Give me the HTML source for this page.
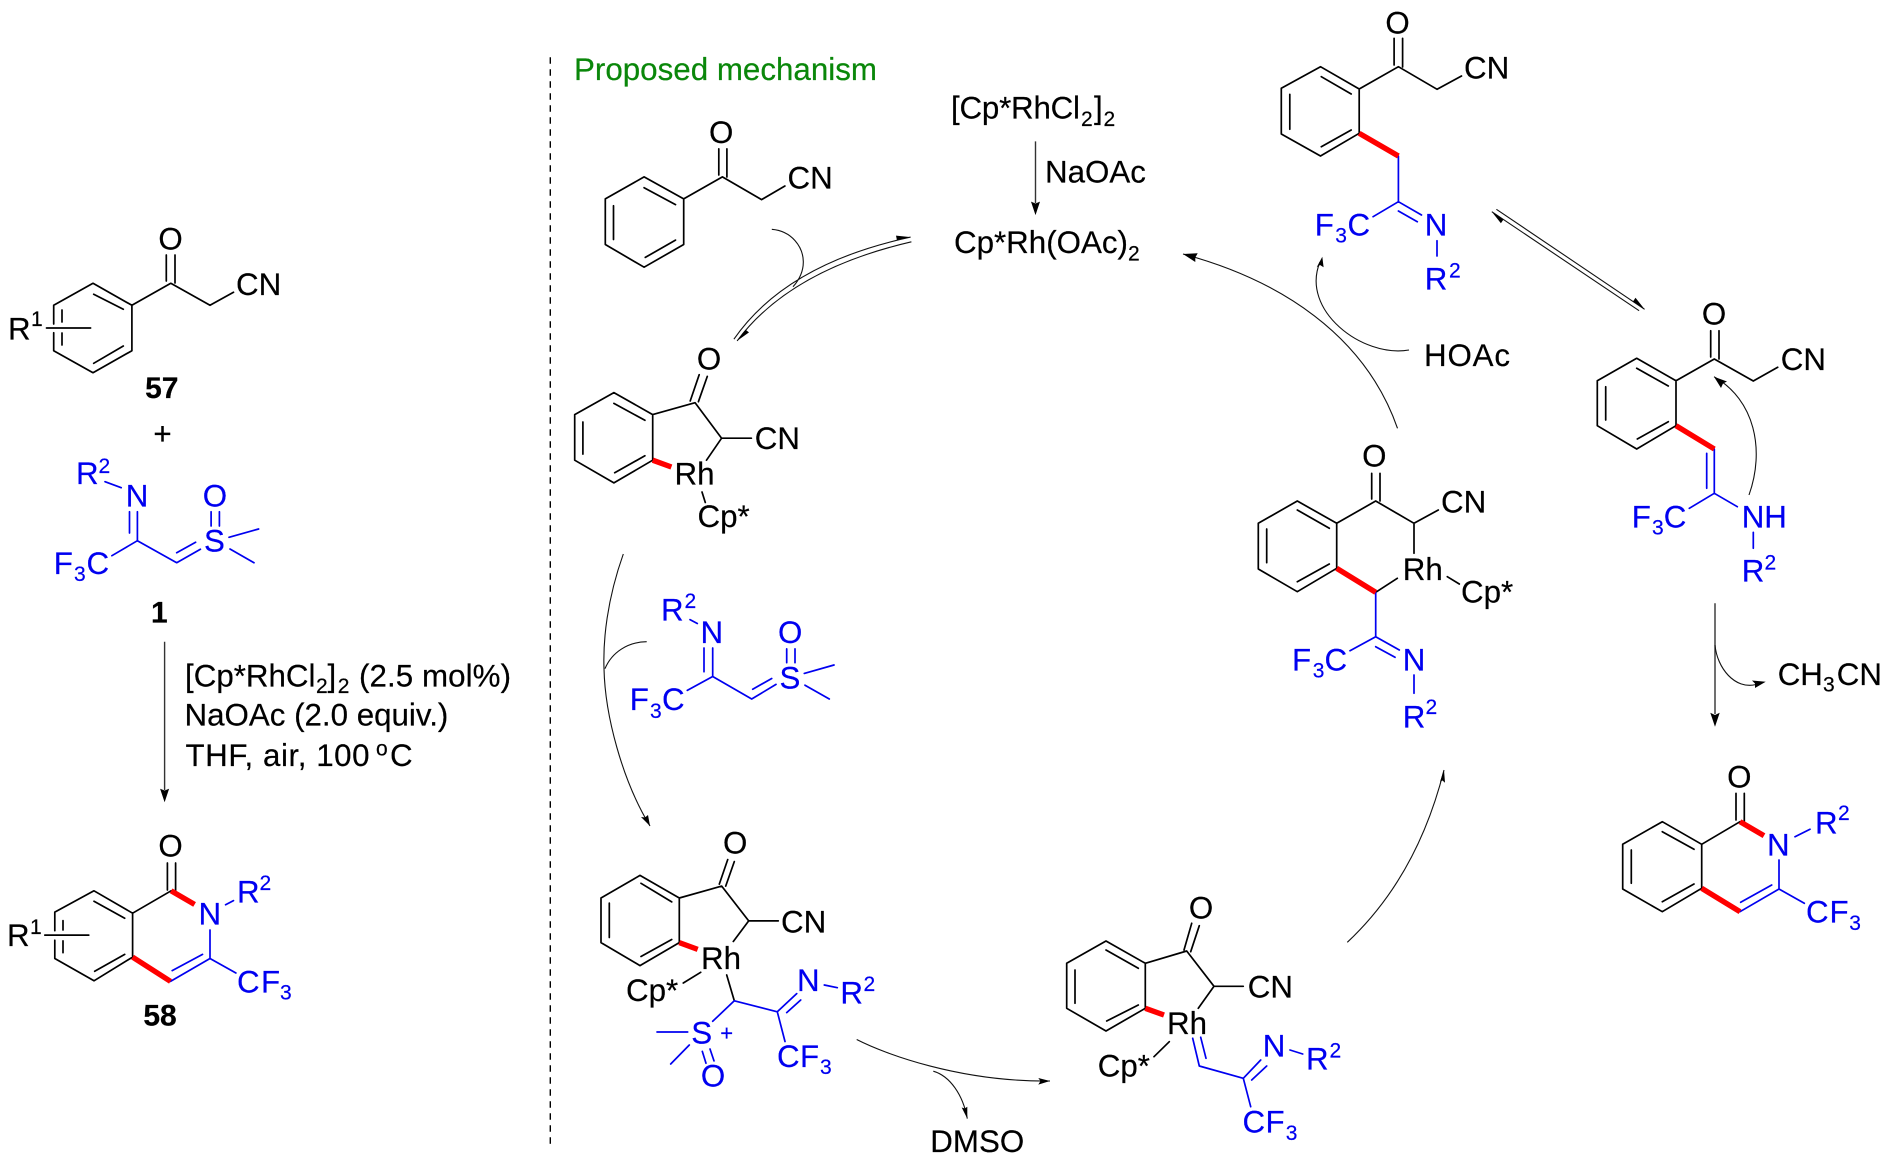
<!DOCTYPE html>
<html><head><meta charset="utf-8"><title>Proposed mechanism</title>
<style>
html,body{margin:0;padding:0;background:#fff}
svg{display:block}
text{font-family:"Liberation Sans",Arial,sans-serif;font-size:31.3px;fill:#000;stroke:#000;stroke-width:.2}
.b text{fill:#0000f0;stroke:#0000f0}
text.s{font-size:21px}
.m{text-anchor:middle}
text.bd{font-weight:bold;font-size:30px}
.k{fill:none;stroke:#000;stroke-width:1.7;stroke-linecap:round;stroke-linejoin:round}
.u{fill:none;stroke:#0000f0;stroke-width:1.7;stroke-linecap:round;stroke-linejoin:round}
.r{fill:none;stroke:#f00;stroke-width:5.4;stroke-linecap:butt}
.t{fill:none;stroke:#111;stroke-width:1.1}
.a{fill:none;stroke:#333;stroke-width:1.4}
</style></head><body>
<svg width="1890" height="1170" viewBox="0 0 1890 1170" xmlns="http://www.w3.org/2000/svg">
<rect width="1890" height="1170" fill="#fff"/>

<!-- dashed separator -->
<path d="M550.3,57.3V1146" fill="none" stroke="#000" stroke-width="1.4" stroke-dasharray="6.5 5.5"/>
<text x="574" y="80" textLength="303" lengthAdjust="spacingAndGlyphs" style="fill:#0a870a;stroke:#0a870a">Proposed mechanism</text>

<!-- black bonds -->
<path class="k" d="
M53.7,324V305.3L93,283.3L131.9,305.3V350.7L93,372.7L53.7,350.7V332.7
M93.7,294.3L123.3,309.3M93.7,363.3L123.3,346M62,310V322M62,333V345M46.5,328H90.6
M131.9,305.3L170.8,283.3L210,305.3L233.5,292.3M166.3,255V281M175,255V283

M54.8,930.7V912.1L94,890.8L132.6,913.2V957.1L94,980.8L54.8,958.5V940.2
M94,901.3L124.7,918.2M94.7,971.3L124.7,954.4M63,920.6V930M63,940.9V952.7M44.8,935.1H88.8
M132.6,913.2L171.1,890.8M167.4,863V890M175.6,863V892

M644.1,176.9L683.7,198.9V244.5L644.1,267.2L605.3,244.5V198.9Z
M644.1,187.7L675.5,204.6M645.3,257.4L675.5,240.1M613.5,205.7V239.5
M683.7,198.9L722.4,176.9L761.6,199.6L784.9,186M718.8,148.9V175M726.9,148.9V177

M613.9,392.6L652.7,414.6V460.2L613.9,482.9L574.7,460.2V414.6Z
M613.9,403.4L644.9,420.3M614.7,472.7L644.9,455.8M582.9,422V454.1
M652.7,414.6L695.1,402.7L721.6,438.2H751.4M721.6,438.2L706.5,460.2
M690.2,401L699.2,374.7M698.4,401.7L707.3,376.4M702,492L705.3,502.5

M640,875.4L679.3,898V942.6L640,965.6L601,942.6V898Z
M641,883.3L671.7,901.9M641,956.5L671.7,939.5M609.3,903.1V937.5
M679.3,898L721.7,886.1L748.7,920.9H778.3M748.7,920.9L733.3,941.5
M719.3,884.1L727.7,859.6M725.7,886.1L734.3,861.6M683.3,983L700.7,972.3M726.7,975L734.3,1000.8

M1106,941L1145.3,963.3V1008.3L1106,1031L1066.7,1008.3V963.3Z
M1106,950L1138.3,968.3M1106.7,1021L1138.3,1005M1075,970V1003.3
M1145.3,963.3L1186.7,951L1214,986.3H1243.3M1214,986.3L1198.3,1008.3
M1184,950L1191.7,923.3M1190.7,951.7L1199.3,925.7M1154,1056.7L1169.3,1041.7

M1320.5,66.7L1359.2,89V133.3L1320.5,156L1281.3,134V88.3Z
M1321.3,76.7L1351.2,94M1321.3,146.7L1351.2,130M1289.8,94.3V129.3
M1359.2,89L1398.4,66.7L1437.1,89.3L1461.5,76M1394.1,38.3V65M1402.6,38.3V67

M1297.3,501L1336.7,523.3V568.3L1297.3,591.7L1258.3,569V523.3Z
M1297.3,510L1329.3,528.3M1297.3,581.7L1329.3,564M1266.7,529V562.7
M1336.7,523.3L1375.7,501L1414,523.3L1438.3,510M1414,523.3V553.3M1371.7,473.3V499M1380,473.3V501
M1397.3,578.3L1375.7,592.3M1447.3,576.7L1459.3,584

M1636.7,358.3L1676,380.7V425.7L1636.7,449L1597.3,425.7V380.7Z
M1636.7,368.3L1668.3,386M1637.3,439L1668.3,421.7M1605.7,386.7V420
M1676,380.7L1714.3,359L1753.3,381L1777.7,367.3M1710.7,330.7V357M1719,330.7V359

M1662.3,821.7L1701.7,844.3V888.3L1662.3,911.7L1622.7,889V844.3Z
M1662.3,831.7L1694,849.3M1662.3,901.7L1694,884M1631.3,850V883.3
M1701.7,844.3L1740,821.7M1736,793.3V820M1744.3,793.3V822
"/>

<!-- blue bonds -->
<path class="u" d="
M105,481.7L121.2,487.7M129.5,511.7V533M137.4,511.7V540.7M111.9,555.7L137.4,540.7L176.7,562.7L200.4,549.3M176.7,552.7L195.6,542.3
M211.1,511.7V526M219.4,511.7V526M229,537.3L258.6,529M230,549L254,562.7

M225.6,904.7L233.5,900.6M210,930V958.5L170.5,981.4M172.2,970.6L202.5,954.4M210,958.5L235.9,973

M690,619.6L697.3,623.5M704,648V671.8M712.7,648V676.5M687.3,690.4L712.7,676.5L751.7,699L776,684.4M752.7,689.2L771.7,678.5
M786.7,648.9V662.7M795,648.9V662.7M804.3,673.4L834,665M805,685.2L829.3,699

M712.7,1021.3L734.3,1000.8L777.3,1011.8L796.7,993.6M786.7,1012.6L800.7,1000M824.3,985L837.3,987.7M777.3,1011.8L785,1041.5
M657,1032H687.7M670.7,1064L689.3,1045M702.3,1051.4L706,1063.2M710,1049L714,1060.9

M1192.7,1038.3L1199.3,1066L1243.3,1078.3L1260.7,1060M1200.7,1037.3L1206,1058.3M1251.7,1080L1266.7,1066M1290,1050L1302.7,1054M1243.3,1078.3L1250.7,1106.7

M1398.4,156V201.7L1421.5,215M1398.4,211L1417.3,221.7M1373.1,216.7L1398.4,201.7M1437,240.7V256

M1375.7,592.3V636.7L1399.3,650M1375.7,646.7L1395,657.3M1350,650.7L1375.7,636.7M1414,675V693.3

M1714.3,449V493.3L1737.3,506.7M1706.7,453.3V488.3M1689.3,508.3L1714.3,493.3M1753.3,532.3V548.3

M1795,836.7L1810,829.3M1779,860V889L1740,911.7M1740.7,902.3L1771.7,885M1779,889L1804.3,903.3
"/>

<!-- red bonds -->
<path class="r" d="M171.1,890.8L194.6,904.4M132.6,957.1L170.5,981.4M652.7,460.2L671.4,467M679.3,942.6L697.7,949.4M1145.3,1008.3L1164,1015M1359.2,133.3L1398.4,156M1336.7,568.3L1375.7,592.3M1676,425.7L1714.3,449M1740,821.7L1764,835.7M1701.7,888.3L1740,911.7"/>

<!-- straight arrows -->
<path class="a" d="M164.6,641.7V790M1035.5,141.4V203M1715,603.3V714"/>
<path class="t" d="M1496.4,209.3L1644.6,309.3M1491.8,211.7L1639.1,310.7"/>

<!-- curved arrows -->
<path class="t" d="M733.9,339.2Q786,264 910.6,237.1M911.4,241.8Q790,270 737.1,340.9
M771.8,229.3C792,231 803,247 803.3,261.4C803.5,271 799,280 793,286.8
M623.3,554C607,600 603,640 604,668.6C605,715 622,780 650,826
M646.7,641.7C628,642 612,652 605,668.6
M856.7,1039.5C885,1054 960,1082 1050,1081
M933.3,1071.2C950,1076 963,1095 967.3,1118.6
M1347.3,942.3Q1417,877 1444,770
M1397.5,428.3C1365,335 1280,280 1183,254
M1409,350C1362,358 1300,310 1320,262
M1749,495C1765,450 1755,400 1714,376.7
M1715,645C1717,668 1735,690 1756,684.5"/>

<!-- arrowheads -->
<g fill="#000">
<polygon points="164.6,802.3 160.1,788.7 164.6,790.5 169.1,788.7"/>
<polygon points="1035.5,215.1 1031,201.6 1035.5,203.5 1040,201.6"/>
<polygon points="1715,726.7 1710.3,712.7 1715,715 1719.7,712.7"/>
<polygon points="910.6,237.1 896.9,240 896,235.6"/>
<polygon points="737.1,340.9 745.5,329.7 749,332.4"/>
<polygon points="650,826 641,817 645,817.5 648,815"/>
<polygon points="1050,1081 1038.3,1078 1040.5,1081 1038.3,1084.6"/>
<polygon points="967.3,1118.6 961.7,1107.5 964.7,1108.5 967.3,1106.7"/>
<polygon points="1444,770 1440,781.7 1442.5,780.5 1445,782.7"/>
<polygon points="1183,254 1197.7,253.3 1195.3,257.5 1195.3,262"/>
<polygon points="1322.3,256.7 1316.7,267.3 1320,265 1323.6,267.3"/>
<polygon points="1714,376.7 1727,381.5 1723,383.5 1721,388"/>
<polygon points="1765.7,681.7 1752,680.5 1755,683.5 1755,688"/>
<polygon points="1644.6,309.3 1633,301.5 1635.5,297.8"/>
<polygon points="1491.8,211.7 1503.4,219.6 1500.9,223.3"/>
</g>

<!-- black text -->
<text class="m" x="170.5" y="249.5">O</text>
<text x="236" y="295">CN</text>
<text x="8" y="339.3">R</text><text class="s" x="31" y="326">1</text>
<text class="bd m" x="161.8" y="398">57</text>
<text class="m" x="162.5" y="444.5">+</text>
<text class="bd m" x="159.4" y="622.7">1</text>

<text x="185" y="686.3" textLength="130.5">[Cp*RhCl</text><text class="s" x="316" y="693">2</text><text x="327.5" y="686.3">]</text><text class="s" x="337.7" y="693">2</text><text x="359" y="686.3" textLength="152">(2.5 mol%)</text>
<text x="184.5" y="725.5">NaOAc (2.0 equiv.)</text>
<text x="185.5" y="765.8" textLength="184">THF, air, 100</text><text class="s" x="376" y="755.5">o</text><text x="390" y="765.8">C</text>

<text class="m" x="170.5" y="856.4">O</text>
<text x="7" y="946">R</text><text class="s" x="30" y="934">1</text>
<text class="bd m" x="160" y="1025.4">58</text>

<text class="m" x="721.2" y="143.1">O</text>
<text x="787.5" y="188.7">CN</text>
<text x="951" y="118.4" textLength="129">[Cp*RhCl</text><text class="s" x="1081" y="126">2</text><text x="1094" y="118.4">]</text><text class="s" x="1103.5" y="126">2</text>
<text x="1045" y="182.7">NaOAc</text>
<text x="954" y="253">Cp*Rh(OAc)</text><text class="s" x="1128" y="260.5">2</text>

<text class="m" x="709" y="369.6">O</text>
<text x="754.8" y="449">CN</text>
<text x="674.5" y="484.6">Rh</text>
<text x="697.5" y="526.8">Cp*</text>

<text class="m" x="735.2" y="853.7">O</text>
<text x="781" y="932.4">CN</text>
<text x="701" y="969">Rh</text>
<text x="626" y="1000.8">Cp*</text>
<text x="930.3" y="1151.8">DMSO</text>

<text class="m" x="1201" y="918.3">O</text>
<text x="1247.8" y="997.3">CN</text>
<text x="1167" y="1034">Rh</text>
<text x="1097.8" y="1076.7">Cp*</text>

<text class="m" x="1397.5" y="33.3">O</text>
<text x="1464" y="78.3">CN</text>
<text x="1424" y="366" textLength="86">HOAc</text>

<text class="m" x="1374.3" y="466.7">O</text>
<text x="1441" y="512.3">CN</text>
<text x="1402.8" y="580">Rh</text>
<text x="1461" y="602.3">Cp*</text>

<text class="m" x="1714" y="324.3">O</text>
<text x="1780.8" y="370">CN</text>

<text x="1777.7" y="685">CH</text><text class="s" x="1823" y="691.7">3</text><text x="1836.8" y="685">CN</text>

<text class="m" x="1739.3" y="787.7">O</text>

<!-- blue text -->
<g class="b">
<text x="76" y="484">R</text><text class="s" x="98.5" y="473">2</text>
<text x="125.7" y="506.7">N</text>
<text x="53.8" y="574">F</text><text class="s" x="74" y="581">3</text><text x="86.5" y="574">C</text>
<text x="204" y="551.7">S</text>
<text x="202.8" y="506.7">O</text>

<text x="198.5" y="924.7">N</text>
<text x="237" y="902.7">R</text><text class="s" x="259.5" y="890.2">2</text>
<text x="237" y="992.6">C</text><text x="261" y="992.6">F</text><text class="s" x="280" y="999.4">3</text>

<text x="661" y="620.4">R</text><text class="s" x="684.5" y="608">2</text>
<text x="700.5" y="642.9">N</text>
<text x="629.7" y="710">F</text><text class="s" x="650" y="718">3</text><text x="662" y="710">C</text>
<text x="779.5" y="688.4">S</text>
<text x="778" y="642.9">O</text>

<text x="797" y="990.9">N</text>
<text x="840.4" y="1003.5">R</text><text class="s" x="863.5" y="990.9">2</text>
<text x="777" y="1066.8">C</text><text x="800" y="1066.8">F</text><text class="s" x="820" y="1074">3</text>
<text x="691.3" y="1043.5">S</text>
<text class="m" x="726.7" y="1040.7" style="font-size:22px">+</text>
<text class="m" x="713" y="1086.6">O</text>

<text x="1262.7" y="1056.7">N</text>
<text x="1306" y="1069.3">R</text><text class="s" x="1329.5" y="1057.7">2</text>
<text x="1242.5" y="1132.7">C</text><text x="1265.5" y="1132.7">F</text><text class="s" x="1285.7" y="1140">3</text>

<text x="1314.7" y="235.7">F</text><text class="s" x="1335.2" y="242.3">3</text><text x="1347.5" y="235.7">C</text>
<text x="1424.7" y="235.7">N</text>
<text x="1424.7" y="289.7">R</text><text class="s" x="1449" y="277.5">2</text>

<text x="1292" y="670.7">F</text><text class="s" x="1312.7" y="677.7">3</text><text x="1324.5" y="670.7">C</text>
<text x="1402.7" y="670.7">N</text>
<text x="1402.7" y="727.3">R</text><text class="s" x="1425.5" y="714">2</text>

<text x="1631.7" y="527.7">F</text><text class="s" x="1652" y="534.3">3</text><text x="1663.8" y="527.7">C</text>
<text x="1741.7" y="527.7">NH</text>
<text x="1741.7" y="581.7">R</text><text class="s" x="1764.5" y="569.3">2</text>

<text x="1767" y="855.7">N</text>
<text x="1815" y="833.3">R</text><text class="s" x="1838" y="820">2</text>
<text x="1806" y="922.7">C</text><text x="1829.5" y="922.7">F</text><text class="s" x="1849.3" y="930">3</text>
</g>
</svg>
</body></html>
